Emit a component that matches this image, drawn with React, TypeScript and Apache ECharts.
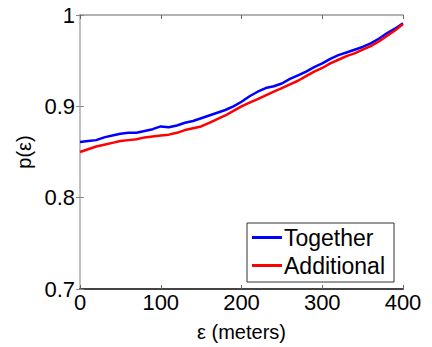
import React, { useEffect, useRef } from "react";
import * as echarts from "echarts";

const xValues = [0, 10, 20, 30, 40, 50, 60, 70, 80, 90, 100, 110, 120, 130, 140, 150, 160, 170, 180, 190, 200, 210, 220, 230, 240, 250, 260, 270, 280, 290, 300, 310, 320, 330, 340, 350, 360, 370, 380, 390, 400];
const together = [0.861, 0.862, 0.863, 0.866, 0.868, 0.87, 0.871, 0.871, 0.873, 0.875, 0.878, 0.877, 0.879, 0.882, 0.884, 0.887, 0.89, 0.893, 0.896, 0.9, 0.905, 0.911, 0.916, 0.92, 0.922, 0.925, 0.93, 0.934, 0.938, 0.943, 0.947, 0.952, 0.956, 0.959, 0.962, 0.965, 0.969, 0.974, 0.98, 0.985, 0.991];
const additional = [0.85, 0.853, 0.856, 0.858, 0.86, 0.862, 0.863, 0.864, 0.866, 0.867, 0.868, 0.869, 0.871, 0.874, 0.876, 0.878, 0.882, 0.886, 0.89, 0.895, 0.9, 0.904, 0.908, 0.912, 0.916, 0.92, 0.924, 0.928, 0.933, 0.938, 0.942, 0.947, 0.951, 0.955, 0.958, 0.962, 0.966, 0.971, 0.977, 0.983, 0.99];
const seriesNames = ["Together", "Additional"];
const xTitle = "ε (meters)";
const yTitle = "p(ε)";

const FONT = "Liberation Sans, Arial, sans-serif";

export default function App() {
  const ref = useRef<HTMLDivElement>(null);
  useEffect(() => {
    if (!ref.current) return;
    const chart = echarts.init(ref.current, undefined, { renderer: "svg" });
    const pair = (ys: number[]) => xValues.map((x, i) => [x, ys[i]]);
    chart.setOption({
      animation: false,
      backgroundColor: "#ffffff",
      grid: { left: 80, right: 29, top: 15, bottom: 49, show: false },
      legend: {
        orient: "vertical",
        left: 247,
        top: 223,
        itemWidth: 30,
        itemHeight: 3,
        itemGap: 5,
        padding: [3, 9, 5, 5],
        borderColor: "#333",
        borderWidth: 1,
        backgroundColor: "#fff",
        icon: "rect",
        textStyle: { fontFamily: FONT, fontSize: 23, color: "#000", padding: [0, 0, 0, -3] },
        data: seriesNames,
      },
      xAxis: [
        {
          type: "value",
          min: 0,
          max: 400,
          interval: 100,
          position: "bottom",
          name: xTitle,
          nameLocation: "middle",
          nameGap: 33,
          nameTextStyle: { fontFamily: FONT, fontSize: 20, color: "#000" },
          axisLine: { show: true, lineStyle: { color: "#444", width: 2 } },
          axisTick: { show: true, inside: true, length: 4, lineStyle: { color: "#666" } },
          axisLabel: { fontFamily: FONT, fontSize: 22, color: "#000", margin: 2 },
          splitLine: { show: false },
        },
        {
          type: "value",
          min: 0,
          max: 400,
          interval: 100,
          position: "top",
          axisLine: { show: true, lineStyle: { color: "#999", width: 1.5 } },
          axisTick: { show: true, inside: true, length: 4, lineStyle: { color: "#666" } },
          axisLabel: { show: false },
          splitLine: { show: false },
        },
      ],
      yAxis: [
        {
          type: "value",
          min: 0.7,
          max: 1,
          interval: 0.1,
          position: "left",
          name: yTitle,
          nameLocation: "middle",
          nameGap: 42,
          nameRotate: 90,
          nameTextStyle: { fontFamily: FONT, fontSize: 20, color: "#000" },
          axisLine: { show: true, lineStyle: { color: "#d4d4d4", width: 2 } },
          axisTick: { show: true, inside: true, length: 4, lineStyle: { color: "#888" } },
          axisLabel: {
            fontFamily: FONT,
            fontSize: 22,
            color: "#000",
            margin: 5,
            formatter: (v: number) => (Math.abs(v - 1) < 1e-9 ? "1" : v.toFixed(1)),
          },
          splitLine: { show: false },
        },
        {
          type: "value",
          min: 0.7,
          max: 1,
          interval: 0.1,
          position: "right",
          axisLine: { show: true, lineStyle: { color: "#bbb", width: 1.5 } },
          axisTick: { show: true, inside: true, length: 4, lineStyle: { color: "#888" } },
          axisLabel: { show: false },
          splitLine: { show: false },
        },
      ],
      series: [
        {
          name: seriesNames[0],
          type: "line",
          data: pair(together),
          showSymbol: false,
          symbol: "none",
          lineStyle: { color: "#0000ff", width: 2.5 },
          itemStyle: { color: "#0000ff" },
        },
        {
          name: seriesNames[1],
          type: "line",
          data: pair(additional),
          showSymbol: false,
          symbol: "none",
          lineStyle: { color: "#ff0000", width: 2.5 },
          itemStyle: { color: "#ff0000" },
        },
      ],
    });
    return () => chart.dispose();
  }, []);
  return (
    <div
      ref={ref}
      style={{ position: "fixed", left: 0, top: 0, width: 432, height: 347 }}
    />
  );
}
